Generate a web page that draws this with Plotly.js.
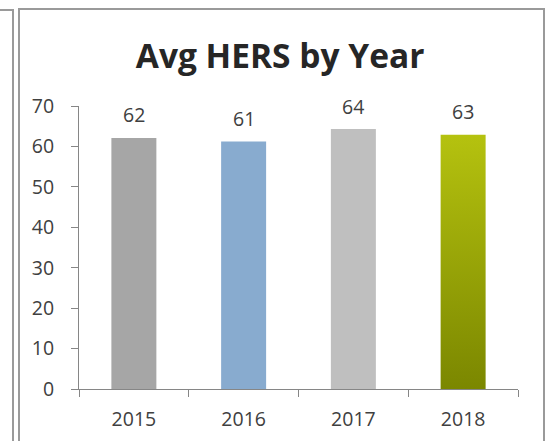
<!DOCTYPE html>
<html>
<head>
<meta charset="utf-8">
<script src="https://cdn.plot.ly/plotly-3.0.1.min.js"></script>
<style>
  html, body { margin: 0; padding: 0; background: #ffffff; overflow: hidden; }
  #wrap { position: relative; width: 546px; height: 441px; }
  #chart { position: absolute; left: 0; top: 0; width: 546px; height: 441px; }
  .frame { position: absolute; box-sizing: border-box; border-color: #9a9a9a; border-style: solid; pointer-events: none; }
</style>
</head>
<body>
<div id="wrap">
  <div id="chart"></div>
  <div class="frame" style="left:-20px; top:9px; width:34px; height:460px; border-width:2px 2px 0 0;"></div>
  <div class="frame" style="left:18px; top:8px; width:527px; height:460px; border-width:2px 2px 0 2px;"></div>
</div>
<script>
const years = ['2015', '2016', '2017', '2018'];
const avgHers = [62.1, 61.2, 64.3, 62.9];
const barColors = ['#a6a6a6', '#88abcf', '#bfbfbf', '#9aa606'];
const yTicks = [0, 10, 20, 30, 40, 50, 60, 70];

const labelFont = { family: '"Open Sans", Lato, sans-serif', size: 19.5, color: '#404040' };

const trace = {
  type: 'bar',
  x: years,
  y: avgHers,
  marker: { color: barColors, line: { width: 0 } },
  hoverinfo: 'skip'
};

const annotations = years.map((yr, i) => ({
  x: i, y: avgHers[i], xref: 'x', yref: 'y',
  text: String(Math.round(avgHers[i])),
  showarrow: false, yanchor: 'middle', yshift: 23,
  font: labelFont
}));

const layout = {
  width: 546, height: 441,
  margin: { l: 79, r: 28, t: 106, b: 52 },
  paper_bgcolor: '#ffffff', plot_bgcolor: '#ffffff',
  bargap: 0.59,
  showlegend: false,
  title: {
    text: '<b>Avg HERS by Year</b>',
    font: { family: '"Open Sans", Lato, sans-serif', size: 33.5, color: '#262626' },
    x: 0.513, xref: 'container', xanchor: 'center',
    y: 1 - 56 / 441, yref: 'container', yanchor: 'middle'
  },
  xaxis: {
    type: 'category',
    range: [-0.5, years.length - 0.5],
    tickson: 'boundaries',
    ticks: 'outside', ticklen: 7, tickcolor: '#868686', tickwidth: 1,
    showline: true, linecolor: '#868686', linewidth: 1,
    showgrid: false, zeroline: false,
    tickfont: labelFont,
    tickangle: 0,
    ticklabelstandoff: 13
  },
  yaxis: {
    range: [0, 70],
    tickvals: yTicks,
    ticktext: yTicks.map(String),
    ticks: 'outside', ticklen: 7, tickcolor: '#868686', tickwidth: 1,
    showline: true, linecolor: '#868686', linewidth: 1,
    showgrid: false, zeroline: false,
    tickfont: labelFont,
    ticklabelstandoff: 13
  },
  annotations: annotations
};

Plotly.newPlot('chart', [trace], layout, { staticPlot: true, displayModeBar: false }).then(gd => {
  const svg = gd.querySelector('svg.main-svg');
  const ns = 'http://www.w3.org/2000/svg';
  let defs = svg.querySelector('defs');
  if (!defs) { defs = document.createElementNS(ns, 'defs'); svg.insertBefore(defs, svg.firstChild); }
  const grad = document.createElementNS(ns, 'linearGradient');
  grad.setAttribute('id', 'olive-grad');
  grad.setAttribute('x1', '0'); grad.setAttribute('y1', '0');
  grad.setAttribute('x2', '0'); grad.setAttribute('y2', '1');
  [['0%', '#b5c20f'], ['100%', '#7b8700']].forEach(([o, c]) => {
    const s = document.createElementNS(ns, 'stop');
    s.setAttribute('offset', o); s.setAttribute('stop-color', c);
    grad.appendChild(s);
  });
  defs.appendChild(grad);
  const paths = gd.querySelectorAll('.trace.bars .point path');
  if (paths[3]) paths[3].style.fill = 'url(#olive-grad)';
});
</script>
</body>
</html>
